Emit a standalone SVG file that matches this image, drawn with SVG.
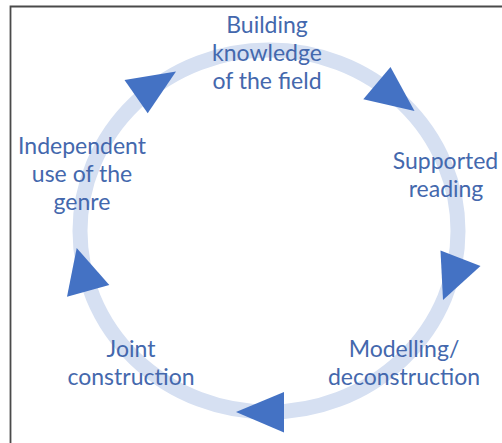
<svg xmlns="http://www.w3.org/2000/svg" width="502" height="443" viewBox="0 0 502 443">
<style>
.lbl{font-family:Lato,"Open Sans","Liberation Sans",sans-serif;font-size:23px;fill:#4468ad;text-anchor:middle}
.arr{fill:#4472c4}
</style>
<rect width="502" height="443" fill="#ffffff"/>
<path d="M10.5,443 V6.5 H502" fill="none" stroke="#4a4a4a" stroke-width="1.8"/>
<g id="connectors">
<ellipse cx="269" cy="231" rx="189" ry="181" fill="none" stroke="#d6e0f2" stroke-width="15"/>
<polygon class="arr" points="124.5,80 176,71.5 147.7,113.3"/>
<polygon class="arr" points="363.3,99.3 390.5,67 414.5,111"/>
<polygon class="arr" points="440.5,250.5 480.5,266 443,300"/>
<polygon class="arr" points="236,412 284,392 284,432.5"/>
<polygon class="arr" points="76.7,248 67,296.7 109.3,285"/>
</g>
<g id="n1"><text class="lbl" x="267" y="33">Building</text><text class="lbl" x="267" y="61">knowledge</text><text class="lbl" x="267" y="89">of the field</text></g>
<g id="n2"><text class="lbl" x="445.5" y="169">Supported</text><text class="lbl" x="446" y="197">reading</text></g>
<g id="n3"><text class="lbl" x="404" y="357">Modelling/</text><text class="lbl" x="404" y="385">deconstruction</text></g>
<g id="n4"><text class="lbl" x="131" y="357">Joint</text><text class="lbl" x="131" y="385">construction</text></g>
<g id="n5"><text class="lbl" x="82" y="153.5">Independent</text><text class="lbl" x="82" y="181.5">use of the</text><text class="lbl" x="82" y="209.5">genre</text></g>
</svg>
